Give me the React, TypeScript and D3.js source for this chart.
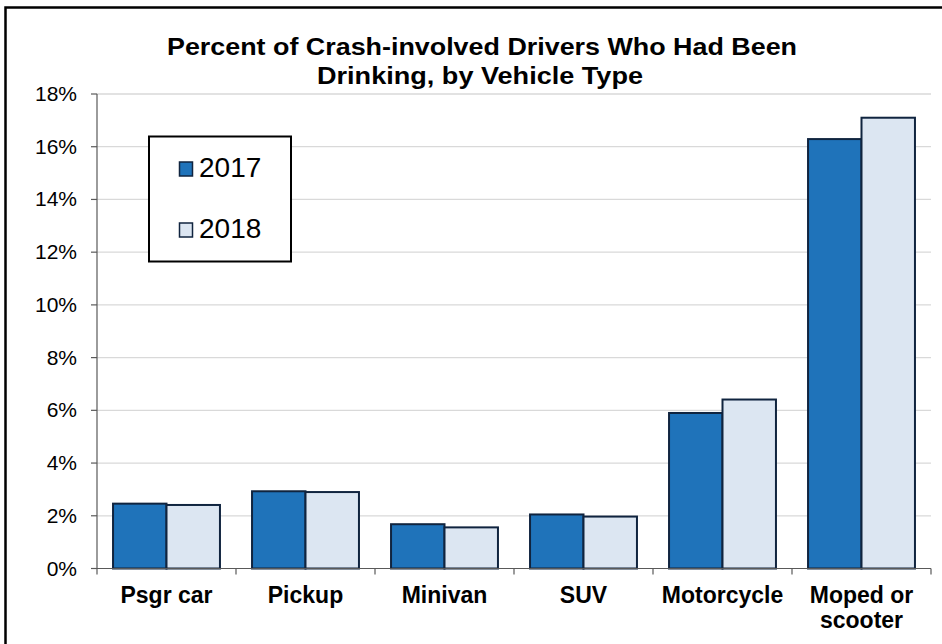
import React from "react";
import * as d3 from "d3";

const categories = ["Psgr car", "Pickup", "Minivan", "SUV", "Motorcycle", "Moped or scooter"];
const categoryLines = [["Psgr car"], ["Pickup"], ["Minivan"], ["SUV"], ["Motorcycle"], ["Moped or", "scooter"]];
const seriesNames = ["2017", "2018"];
const values2017 = [2.46, 2.93, 1.68, 2.05, 5.9, 16.29];
const values2018 = [2.41, 2.9, 1.56, 1.97, 6.41, 17.1];
const yTicks = [0, 2, 4, 6, 8, 10, 12, 14, 16, 18];
const titleLines = ["Percent of Crash-involved Drivers Who Had Been", "Drinking, by Vehicle Type"];

const W = 942;
const H = 644;
const left = 97;
const right = 931;
const top = 94;
const bottom = 568.5;
const font = "'Liberation Sans', Arial, sans-serif";
const colors = ["#1f73ba", "#dce6f2"];
const strokeCol = "#10243f";
const titleLayout = [
  { cx: 482, y: 55, len: 630 },
  { cx: 480, y: 84, len: 326 },
];

export default function App() {
  const x = d3.scaleBand<string>().domain(categories).range([left, right]).paddingInner(0).paddingOuter(0);
  const inner = d3.scaleBand<string>().domain(seriesNames).range([0, x.bandwidth()]).paddingInner(0).paddingOuter(0.3);
  const y = d3.scaleLinear().domain([0, 18]).range([bottom, top]);
  const series = [values2017, values2018];

  return (
    <svg width={W} height={H} style={{ position: "absolute", left: 0, top: 0, background: "#fff" }}>
      <rect x={0} y={0} width={W} height={H} fill="#fff" />
      <rect x={5.5} y={7.5} width={W + 20} height={H + 20} fill="none" stroke="#000" strokeWidth={2.5} />
      {titleLines.map((t, i) => (
        <text
          key={i}
          x={titleLayout[i].cx - titleLayout[i].len / 2}
          y={titleLayout[i].y}
          textLength={titleLayout[i].len}
          lengthAdjust="spacingAndGlyphs"
          fontFamily={font}
          fontWeight="bold"
          fontSize={23}
          fill="#000"
        >
          {t}
        </text>
      ))}
      {yTicks.map((t) => (
        <g key={t}>
          {t > 0 && <line x1={left} x2={right} y1={y(t)} y2={y(t)} stroke="#d9d9d9" strokeWidth={1.3} />}
          <line x1={left - 6} x2={left} y1={y(t)} y2={y(t)} stroke="#595959" strokeWidth={1.2} />
          <text x={77} y={y(t) + 7} textAnchor="end" fontFamily={font} fontSize={21} fill="#000">
            {t}%
          </text>
        </g>
      ))}
      {categories.map((c, ci) =>
        series.map((vals, si) => (
          <rect
            key={c + si}
            x={(x(c) as number) + (inner(seriesNames[si]) as number)}
            y={y(vals[ci])}
            width={inner.bandwidth()}
            height={y(0) - y(vals[ci])}
            fill={colors[si]}
            stroke={strokeCol}
            strokeWidth={2}
          />
        ))
      )}
      <line x1={left} x2={left} y1={top} y2={bottom} stroke="#595959" strokeWidth={1.2} />
      <line x1={left} x2={right} y1={bottom} y2={bottom} stroke="#595959" strokeWidth={1.2} />
      {categories.map((c) => (
        <line key={c} x1={(x(c) as number) + x.bandwidth()} x2={(x(c) as number) + x.bandwidth()} y1={bottom} y2={bottom + 6} stroke="#595959" strokeWidth={1.2} />
      ))}
      <line x1={left} x2={left} y1={bottom} y2={bottom + 6} stroke="#595959" strokeWidth={1.2} />
      {categories.map((c, ci) => (
        <text key={c} textAnchor="middle" fontFamily={font} fontWeight="bold" fontSize={23} fill="#000">
          {categoryLines[ci].map((l, li) => (
            <tspan key={li} x={(x(c) as number) + x.bandwidth() / 2} y={603 + li * 25}>
              {l}
            </tspan>
          ))}
        </text>
      ))}
      <rect x={149} y={136.5} width={142} height={125} fill="#fff" stroke="#000" strokeWidth={2} />
      {seriesNames.map((s, si) => (
        <g key={s}>
          <rect x={179.5} y={162 + si * 61} width={13} height={14} fill={colors[si]} stroke={strokeCol} strokeWidth={1.5} />
          <text x={199} y={177 + si * 61} fontFamily={font} fontSize={28} fill="#000">
            {s}
          </text>
        </g>
      ))}
    </svg>
  );
}
